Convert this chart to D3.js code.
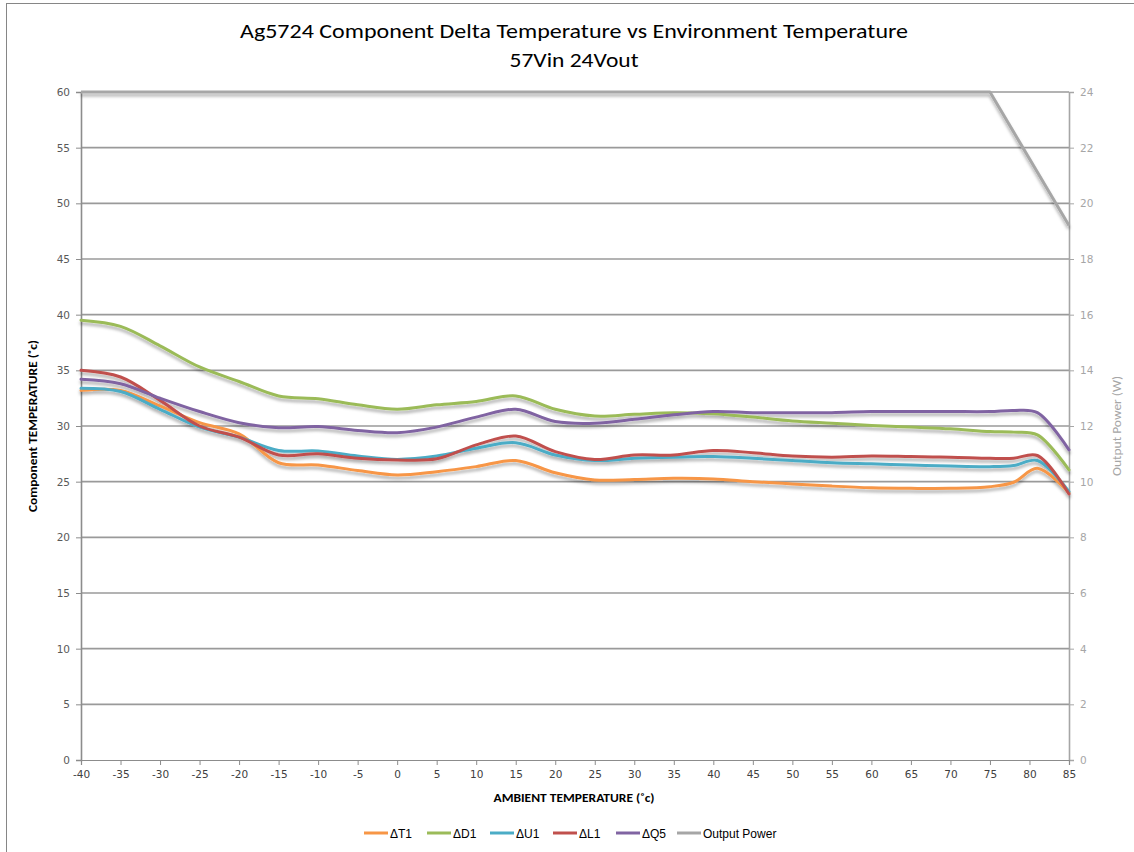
<!DOCTYPE html>
<html>
<head>
<meta charset="utf-8">
<script src="https://cdn.jsdelivr.net/npm/d3@7/dist/d3.min.js"></script>
<style>
  html, body { margin: 0; padding: 0; background: #fff; }
  svg { display: block; }
</style>
</head>
<body>
<svg id="chart" width="1134" height="852"></svg>
<script>
// ---- data ----
const ambientTemps = [-40,-35,-30,-25,-20,-15,-10,-5,0,5,10,15,20,25,30,35,40,45,50,55,60,65,70,75,78,81,85];
const dT1 = [33.2,33.2,31.8,30.3,29.3,26.7,26.5,26.0,25.6,25.9,26.35,26.9,25.8,25.15,25.2,25.3,25.25,25.0,24.8,24.6,24.45,24.4,24.4,24.55,24.95,26.2,24.0];
const dD1 = [39.5,38.95,37.2,35.3,34.0,32.7,32.45,31.9,31.5,31.9,32.2,32.7,31.5,30.9,31.05,31.2,31.1,30.8,30.45,30.25,30.05,29.9,29.75,29.5,29.45,29.2,26.05];
const dU1 = [33.4,33.1,31.5,29.9,29.0,27.8,27.75,27.3,27.0,27.3,28.0,28.5,27.4,26.9,27.1,27.2,27.25,27.1,26.9,26.7,26.6,26.5,26.4,26.35,26.45,26.9,24.1];
const dL1 = [35.0,34.4,32.3,30.0,29.0,27.4,27.5,27.1,26.95,27.05,28.3,29.1,27.7,27.0,27.4,27.4,27.8,27.6,27.3,27.2,27.3,27.25,27.2,27.1,27.1,27.35,23.9];
const dQ5 = [34.2,33.8,32.5,31.3,30.3,29.85,29.95,29.6,29.4,29.9,30.8,31.5,30.4,30.25,30.6,31.0,31.3,31.2,31.2,31.2,31.3,31.3,31.3,31.3,31.4,31.2,27.85];
const powerTemps = [-40, 75, 85];
const outputPower = [24, 24, 19.2];

const seriesNames = ["ΔT1","ΔD1","ΔU1","ΔL1","ΔQ5"];
const seriesValues = [dT1, dD1, dU1, dL1, dQ5];
const seriesColors = ["#F79646","#9BBB59","#4BACC6","#C0504D","#8064A2"];
const powerName = "Output Power";
const powerColor = "#A6A6A6";

const xTicks = [-40,-35,-30,-25,-20,-15,-10,-5,0,5,10,15,20,25,30,35,40,45,50,55,60,65,70,75,80,85];
const leftTicks = [0,5,10,15,20,25,30,35,40,45,50,55,60];
const rightTicks = [0,2,4,6,8,10,12,14,16,18,20,22,24];

const titleLine1 = "Ag5724 Component Delta Temperature vs Environment Temperature";
const titleLine2 = "57Vin 24Vout";
const xTitle = "AMBIENT TEMPERATURE (˚c)";
const yTitle = "Component TEMPERATURE (˚c)";
const y2Title = "Output Power (W)";

// ---- layout ----
const svg = d3.select("#chart");
const plot = {left: 81, right: 1069, top: 92, bottom: 760};
const x = d3.scaleLinear().domain([-40, 85]).range([plot.left, plot.right]);
const yL = d3.scaleLinear().domain([0, 60]).range([plot.bottom, plot.top]);
const yR = d3.scaleLinear().domain([0, 24]).range([plot.bottom, plot.top]);
const fmt = d => String(d);

const defs = svg.append("defs");
const f = defs.append("filter").attr("id", "shadow").attr("x", "-5%").attr("y", "-20%").attr("width", "110%").attr("height", "160%");
f.append("feDropShadow").attr("dx", 0).attr("dy", 3).attr("stdDeviation", 1.8)
  .attr("flood-color", "#000").attr("flood-opacity", 0.3);

// outer frame
svg.append("rect").attr("x", 6.5).attr("y", 3.5).attr("width", 1160).attr("height", 900)
  .attr("fill", "none").attr("stroke", "#868686").attr("stroke-width", 1);

// gridlines
svg.append("g").selectAll("line").data(leftTicks.filter(d => d > 0)).join("line")
  .attr("x1", plot.left).attr("x2", plot.right)
  .attr("y1", d => yL(d)).attr("y2", d => yL(d))
  .attr("stroke", "#9a9a9a").attr("stroke-width", 1.6);

const tickFont = "'DejaVu Sans', Verdana, sans-serif";
const tickSize = "10.5px";

// left axis
const gL = svg.append("g").attr("transform", `translate(${plot.left},0)`)
  .call(d3.axisLeft(yL).tickValues(leftTicks).tickSize(5).tickPadding(6).tickFormat(fmt));
gL.select(".domain").attr("stroke", "#8c8c8c").attr("stroke-width", 1.6);
gL.selectAll(".tick line").attr("stroke", "#8c8c8c");
gL.selectAll(".tick text").attr("fill", "#595959").style("font-family", tickFont).style("font-size", tickSize);

// right axis
const gR = svg.append("g").attr("transform", `translate(${plot.right},0)`)
  .call(d3.axisRight(yR).tickValues(rightTicks).tickSize(5).tickPadding(6).tickFormat(fmt));
gR.select(".domain").attr("stroke", "#a6a6a6").attr("stroke-width", 1.6);
gR.selectAll(".tick line").attr("stroke", "#a6a6a6");
gR.selectAll(".tick text").attr("fill", "#a6a6a6").style("font-family", tickFont).style("font-size", tickSize);

// bottom axis
const gB = svg.append("g").attr("transform", `translate(0,${plot.bottom})`)
  .call(d3.axisBottom(x).tickValues(xTicks).tickSize(5).tickPadding(6).tickFormat(fmt));
gB.select(".domain").attr("stroke", "#8c8c8c").attr("stroke-width", 1.2);
gB.selectAll(".tick line").attr("stroke", "#8c8c8c");
gB.selectAll(".tick text").attr("fill", "#404040").style("font-family", tickFont).style("font-size", tickSize);

// lines
const lineGen = (vals) => d3.line()
  .x((d, i) => x(ambientTemps[i]))
  .y(d => yL(d))
  .curve(d3.curveCatmullRom.alpha(0.5))(vals);

const gLines = svg.append("g").attr("filter", "url(#shadow)");
seriesValues.forEach((vals, k) => {
  gLines.append("path").attr("d", lineGen(vals))
    .attr("fill", "none").attr("stroke", seriesColors[k]).attr("stroke-width", 3)
    .attr("stroke-linejoin", "round").attr("stroke-linecap", "round");
});
const powerLine = d3.line().x((d, i) => x(powerTemps[i])).y(d => yR(d));
gLines.append("path").attr("d", powerLine(outputPower))
  .attr("fill", "none").attr("stroke", powerColor).attr("stroke-width", 3)
  .attr("stroke-linejoin", "round");

// titles
const titleFont = "Carlito, 'Liberation Sans Narrow', 'Liberation Sans', sans-serif";
svg.append("text").attr("x", 574).attr("y", 38).attr("text-anchor", "middle")
  .style("font-family", titleFont).style("font-size", "21px").attr("fill", "#000")
  .attr("textLength", 668).attr("lengthAdjust", "spacingAndGlyphs").text(titleLine1);
svg.append("text").attr("x", 574).attr("y", 67).attr("text-anchor", "middle")
  .style("font-family", titleFont).style("font-size", "21px").attr("fill", "#000")
  .attr("textLength", 129).attr("lengthAdjust", "spacingAndGlyphs").text(titleLine2);

const axFont = "Carlito, 'Liberation Sans Narrow', 'Liberation Sans', sans-serif";
svg.append("text").attr("x", 574).attr("y", 802).attr("text-anchor", "middle")
  .style("font-family", axFont).style("font-size", "11px").style("font-weight", "bold").attr("fill", "#000")
  .attr("textLength", 161).attr("lengthAdjust", "spacingAndGlyphs").text(xTitle);
svg.append("text").attr("transform", "translate(37,426) rotate(-90)").attr("text-anchor", "middle")
  .style("font-family", axFont).style("font-size", "11px").style("font-weight", "bold").attr("fill", "#000")
  .attr("textLength", 172).attr("lengthAdjust", "spacingAndGlyphs").text(yTitle);
svg.append("text").attr("transform", "translate(1121,426) rotate(-90)").attr("text-anchor", "middle")
  .style("font-family", axFont).style("font-size", "12px").attr("fill", "#a6a6a6")
  .attr("textLength", 100).attr("lengthAdjust", "spacingAndGlyphs").text(y2Title);

// legend
const legendItems = seriesNames.map((n, i) => ({name: n, color: seriesColors[i]}))
  .concat([{name: powerName, color: powerColor}]);
const legendX = [364, 427, 490, 553, 616, 677];
const lg = svg.append("g");
legendItems.forEach((it, i) => {
  const g = lg.append("g").attr("transform", `translate(${legendX[i]},833)`);
  g.append("line").attr("x1", 0).attr("x2", 24).attr("y1", 0).attr("y2", 0)
    .attr("stroke", it.color).attr("stroke-width", 3);
  g.append("text").attr("x", 26).attr("y", 4.5)
    .style("font-family", "'Liberation Sans', Arial, sans-serif").style("font-size", "12px")
    .attr("fill", "#000").text(it.name);
});
</script>
</body>
</html>
